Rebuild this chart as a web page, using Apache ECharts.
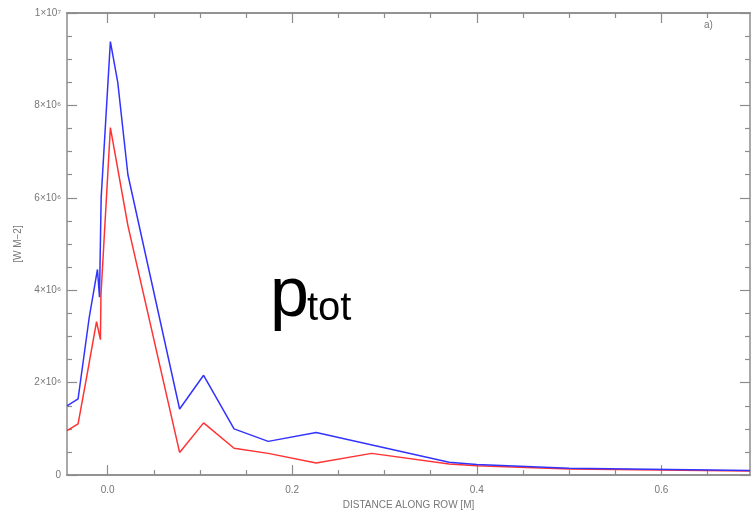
<!DOCTYPE html>
<html>
<head>
<meta charset="utf-8">
<script src="https://cdn.jsdelivr.net/npm/echarts@6/dist/echarts.min.js"></script>
<style>
html,body{margin:0;padding:0;background:#fff;}
#container{width:752px;height:515px;}
</style>
</head>
<body>
<div id="container"></div>
<script>
// distance along row [m] and power [W m-2]
var distBlue = [-0.044, -0.032, -0.02, -0.011, -0.0088, -0.007, 0.003, 0.011, 0.022, 0.078, 0.104, 0.137, 0.174, 0.226, 0.37, 0.40, 0.50, 0.696];
var pBlue    = [1.50e6, 1.65e6, 3.4e6, 4.45e6, 3.85e6, 6.0e6, 9.38e6, 8.5e6, 6.5e6, 1.43e6, 2.16e6, 1.0e6, 0.73e6, 0.92e6, 0.28e6, 0.23e6, 0.15e6, 0.10e6];
var distRed  = [-0.044, -0.032, -0.022, -0.012, -0.0078, -0.0072, 0.003, 0.022, 0.078, 0.104, 0.137, 0.174, 0.226, 0.286, 0.37, 0.40, 0.50, 0.696];
var pRed     = [0.96e6, 1.11e6, 2.2e6, 3.32e6, 2.93e6, 3.9e6, 7.52e6, 5.4e6, 0.49e6, 1.13e6, 0.58e6, 0.47e6, 0.26e6, 0.47e6, 0.24e6, 0.20e6, 0.13e6, 0.09e6];

var xMajor = [0, 0.2, 0.4, 0.6];
var xMinor = [0.05, 0.1, 0.15, 0.25, 0.3, 0.35, 0.45, 0.5, 0.55, 0.65];
var yLabels = {0: '0', 2: '2×10⁶', 4: '4×10⁶', 6: '6×10⁶', 8: '8×10⁶', 10: '1×10⁷'};

function pairs(xs, ys) {
    var out = [];
    for (var i = 0; i < xs.length; i++) out.push([xs[i], ys[i]]);
    return out;
}

var dom = document.getElementById("container");
var myChart = echarts.init(dom);

var gray = '#8c8c8c';
var font = 'Liberation Sans';
var xMin = -0.044, xMax = 0.696;

function xAxisDef(pos, ticks, len, labels) {
    return {
        type: 'value', position: pos, min: xMin, max: xMax,
        axisLine: {show: true, onZero: false, lineStyle: {color: gray, width: 1.5}},
        axisTick: {show: true, inside: true, length: len, customValues: ticks, lineStyle: {color: gray, width: 1.2}},
        axisLabel: labels ? {show: true, customValues: ticks, color: '#777', fontSize: 10, fontFamily: font, margin: 10,
            formatter: function (v) { return v.toFixed(1); }} : {show: false},
        splitLine: {show: false}
    };
}

function yAxisDef(pos, labels) {
    return {
        type: 'value', position: pos, min: 0, max: 1e7, interval: 2e6,
        axisLine: {show: true, onZero: false, lineStyle: {color: gray, width: 1.5}},
        axisTick: {show: true, inside: true, length: 10, lineStyle: {color: gray, width: 1.2}},
        minorTick: {show: true, splitNumber: 4, length: 5, lineStyle: {color: gray, width: 1.2}},
        axisLabel: labels ? {show: true, color: '#777', fontSize: 10, fontFamily: font, margin: 6,
            formatter: function (v) { return yLabels[Math.round(v / 1e6)]; }} : {show: false},
        splitLine: {show: false},
        name: labels ? '[W M−2]' : '', nameLocation: 'middle', nameGap: 40, nameRotate: 90,
        nameTextStyle: {color: '#777', fontSize: 10, fontFamily: font}
    };
}

var xBottom = xAxisDef('bottom', xMajor, 10, true);
xBottom.name = 'DISTANCE ALONG ROW [M]';
xBottom.nameLocation = 'middle';
xBottom.nameGap = 24;
xBottom.nameTextStyle = {color: '#777', fontSize: 10, fontFamily: font};

option = {
    backgroundColor: '#fff',
    animation: false,
    grid: {left: 67, right: 2, top: 13, bottom: 35},
    xAxis: [
        xBottom,
        xAxisDef('bottom', xMinor, 5, false),
        xAxisDef('top', xMajor, 10, false),
        xAxisDef('top', xMinor, 5, false)
    ],
    yAxis: [yAxisDef('left', true), yAxisDef('right', false)],
    series: [
        {type: 'line', data: pairs(distBlue, pBlue), showSymbol: false, symbol: 'none',
            lineStyle: {color: '#3333ff', width: 1.5}, z: 3},
        {type: 'line', data: pairs(distRed, pRed), showSymbol: false, symbol: 'none',
            lineStyle: {color: '#ff3333', width: 1.5}, z: 2}
    ],
    graphic: [
        {type: 'text', left: 704, top: 20, style: {text: 'a)', fill: '#777', font: '10px "Liberation Sans"'}},
        {type: 'text', left: 270, top: 262, style: {text: 'p', fill: '#000', font: '70px "Liberation Sans"'}},
        {type: 'text', left: 307, top: 289, style: {text: 'tot', fill: '#000', font: '40px "Liberation Sans"'}}
    ]
};

if (option && typeof option === "object") {
    myChart.setOption(option, true);
}
</script>
</body>
</html>
